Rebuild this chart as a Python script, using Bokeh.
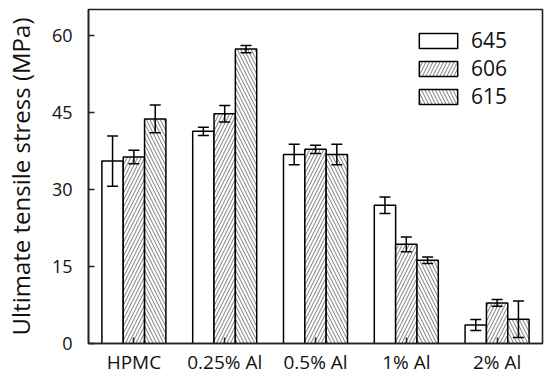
from bokeh.plotting import figure
from bokeh.models import FactorRange, Whisker, TeeHead, ColumnDataSource, FixedTicker
from bokeh.transform import dodge
from bokeh.embed import file_html
from bokeh.resources import INLINE

categories = ["HPMC", "0.25% Al", "0.5% Al", "1% Al", "2% Al"]
series = ["645", "606", "615"]
v645 = [35.5, 41.3, 36.8, 26.9, 3.6]
v606 = [36.3, 44.7, 37.8, 19.3, 7.9]
v615 = [43.7, 57.3, 36.8, 16.2, 4.7]
e645 = [4.9, 0.8, 2.0, 1.6, 1.05]
e606 = [1.3, 1.6, 0.8, 1.45, 0.65]
e615 = [2.7, 0.7, 2.0, 0.65, 3.55]
y_ticks = [0, 15, 30, 45, 60]

FONT = "Open Sans"
DARK = "#222222"

p = figure(x_range=FactorRange(*categories), y_range=(0, 65),
           width=544, height=379, output_backend="svg", toolbar_location=None,
           min_border_left=88, min_border_right=2, min_border_top=9, min_border_bottom=36)

p.xgrid.visible = False
p.ygrid.visible = False
p.outline_line_color = DARK
p.outline_line_width = 1.6
p.background_fill_color = "white"
p.border_fill_color = "white"

width = 0.235
offsets = [-width, 0.0, width]
hatches = [" ", "right_diagonal_line", "left_diagonal_line"]
vals_all = [v645, v606, v615]
errs_all = [e645, e606, e615]

for name, vals, errs, off, hatch in zip(series, vals_all, errs_all, offsets, hatches):
    src = ColumnDataSource(dict(
        cat=categories, top=vals,
        upper=[v + e for v, e in zip(vals, errs)],
        lower=[v - e for v, e in zip(vals, errs)],
    ))
    p.vbar(x=dodge("cat", off, range=p.x_range), top="top", width=width, source=src,
           fill_color="white", line_color="black", line_width=1.5,
           hatch_pattern=hatch, hatch_color="#555555", hatch_weight=0.8, hatch_scale=7,
           legend_label=name)
    w = Whisker(base=dodge("cat", off, range=p.x_range), upper="upper", lower="lower",
                source=src, line_color="black", line_width=1.5, level="annotation",
                upper_head=TeeHead(size=11, line_width=1.5, line_color="black"),
                lower_head=TeeHead(size=11, line_width=1.5, line_color="black"))
    p.add_layout(w)

for ax in (p.xaxis[0], p.yaxis[0]):
    ax.axis_line_color = DARK
    ax.axis_line_width = 1.6
    ax.major_tick_line_color = DARK
    ax.major_tick_line_width = 1.5
    ax.major_tick_in = 6
    ax.major_tick_out = 0
    ax.minor_tick_in = 0
    ax.minor_tick_out = 0
    ax.minor_tick_line_color = None
    ax.major_label_text_font = FONT
    ax.major_label_text_color = "#111111"

p.yaxis.major_label_text_font_size = "18px"
p.yaxis.ticker = FixedTicker(ticks=y_ticks)
p.yaxis.major_label_standoff = 16
p.yaxis.axis_label = "Ultimate tensile stress (MPa)"
p.yaxis.axis_label_text_font = FONT
p.yaxis.axis_label_text_font_size = "24px"
p.yaxis.axis_label_text_font_style = "normal"
p.yaxis.axis_label_text_color = "#111111"
p.yaxis.axis_label_standoff = 12

p.xaxis.major_label_text_font_size = "19px"
p.xaxis.major_label_standoff = 5

lg = p.legend[0]
lg.location = "top_right"
lg.margin = 17
lg.padding = 0
lg.spacing = 0
lg.border_line_color = None
lg.background_fill_alpha = 0
lg.glyph_width = 48
lg.glyph_height = 19
lg.label_height = 19
lg.label_width = 54
lg.label_standoff = 9
lg.label_text_font = FONT
lg.label_text_font_size = "21px"
lg.label_text_color = "#111111"

open("out.html", "w").write(file_html(p, INLINE))
